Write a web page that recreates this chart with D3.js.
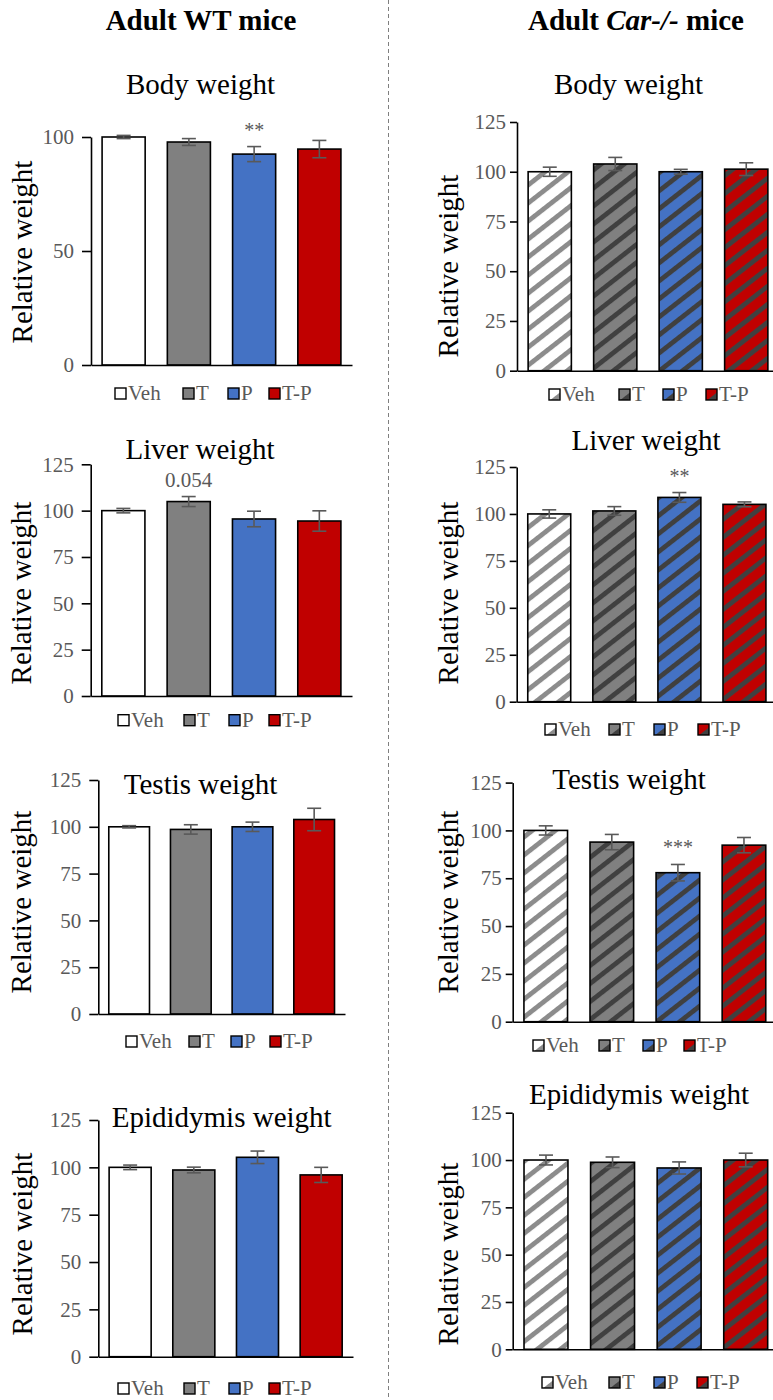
<!DOCTYPE html>
<html>
<head>
<meta charset="utf-8">
<script src="https://cdn.jsdelivr.net/npm/d3@7"></script>
<style>
  body { margin: 0; background: #fff; }
  text { font-family: "Liberation Serif", "Times New Roman", serif; }
</style>
</head>
<body>
<svg id="fig" width="773" height="1400"></svg>
<script>
var groups = ["Veh", "T", "P", "T-P"];

// adult WT mice (relative weight, % of vehicle)
var wtBody = [100, 97.8, 92.5, 94.7];
var wtBodyErr = [0.7, 1.5, 3.3, 3.8];
var wtLiver = [100, 104.9, 95.5, 94.4];
var wtLiverErr = [1.2, 2.7, 4.2, 5.5];
var wtTestis = [100, 98.6, 100, 103.9];
var wtTestisErr = [0.6, 2.5, 2.5, 6.0];
var wtEpid = [100, 98.6, 105.3, 96.0];
var wtEpidErr = [1.2, 1.5, 3.3, 4.0];

// adult Car-/- mice
var carBody = [100, 103.9, 100, 101.3];
var carBodyErr = [2.3, 3.3, 1.2, 3.2];
var carLiver = [100, 101.6, 108.8, 105.1];
var carLiverErr = [2.2, 2.3, 2.6, 1.3];
var carTestis = [100, 93.9, 77.9, 92.3];
var carTestisErr = [2.4, 4.0, 4.3, 4.0];
var carEpid = [100, 98.8, 95.8, 100];
var carEpidErr = [2.6, 2.8, 3.2, 3.6];

// marks above the bars
var wtBodySig = ["", "", "**", ""];
var wtLiverSig = ["", "0.054", "", ""];
var carLiverSig = ["", "", "**", ""];
var carTestisSig = ["", "", "***", ""];
var noSig = ["", "", "", ""];

// y tick labels
var bodyTicks = [0, 50, 100];
var ticks125 = [0, 25, 50, 75, 100, 125];

// colours
var fills = ["#ffffff", "#808080", "#4472c4", "#c00000"];
var stripes = ["#8c8c8c", "#404040", "#404040", "#404040"];
var grey = "#595959";
var serif = "'Liberation Serif', 'Times New Roman', serif";

var svg = d3.select("#fig");
var defs = svg.append("defs");

// diagonal hatching for the Car-/- bars
groups.forEach(function(gname, i) {
  var pat = defs.append("pattern")
    .attr("id", "hatch" + i)
    .attr("patternUnits", "userSpaceOnUse")
    .attr("width", 20).attr("height", 14.2)
    .attr("patternTransform", "rotate(-38)");
  pat.append("rect").attr("width", 20).attr("height", 14.2).attr("fill", fills[i]);
  pat.append("rect").attr("width", 20).attr("height", 4.8).attr("fill", stripes[i]);
});

// column headers
svg.append("text")
  .attr("x", 201).attr("y", 30)
  .attr("text-anchor", "middle")
  .style("font-family", serif)
  .style("font-size", "29px").style("font-weight", "bold")
  .text("Adult WT mice");

var head2 = svg.append("text")
  .attr("x", 636).attr("y", 30)
  .attr("text-anchor", "middle")
  .style("font-family", serif)
  .style("font-size", "29px").style("font-weight", "bold");
head2.append("tspan").text("Adult ");
head2.append("tspan").style("font-style", "italic").text("Car-/-");
head2.append("tspan").text(" mice");

// dashed divider
svg.append("line")
  .attr("x1", 388.5).attr("x2", 388.5)
  .attr("y1", 0).attr("y2", 1400)
  .attr("stroke", "#7f7f7f")
  .attr("stroke-width", 1)
  .attr("stroke-dasharray", "4,3");

var panels = [
  {values: wtBody, errs: wtBodyErr, sig: wtBodySig, ticks: bodyTicks, max: 100, hatch: false,
   x0: 91, x1: 352, y0: 365, yTop: 137, tickSize: 9, pad: 8,
   title: "Body weight", tx: 200.5, ty: 94.3, lx: 31.5, ly: 252, legY: 400, legX: [115, 183, 228, 269]},
  {values: carBody, errs: carBodyErr, sig: noSig, ticks: ticks125, max: 125, hatch: true,
   x0: 517, x1: 779, y0: 370.7, yTop: 122, tickSize: 7, pad: 4,
   title: "Body weight", tx: 628.5, ty: 94.3, lx: 458, ly: 266, legY: 401, legX: [549, 619, 663, 706]},
  {values: wtLiver, errs: wtLiverErr, sig: wtLiverSig, ticks: ticks125, max: 125, hatch: false,
   x0: 90.7, x1: 352, y0: 696, yTop: 464.3, tickSize: 9, pad: 8,
   title: "Liver weight", tx: 200, ty: 459.3, lx: 31, ly: 593, legY: 726.7, legX: [118, 184, 229, 269]},
  {values: carLiver, errs: carLiverErr, sig: carLiverSig, ticks: ticks125, max: 125, hatch: true,
   x0: 516.7, x1: 777, y0: 701.7, yTop: 467, tickSize: 7, pad: 4,
   title: "Liver weight", tx: 646, ty: 450, lx: 458, ly: 593, legY: 736, legX: [545, 609, 654, 698]},
  {values: wtTestis, errs: wtTestisErr, sig: noSig, ticks: ticks125, max: 125, hatch: false,
   x0: 98.3, x1: 345, y0: 1014, yTop: 780, tickSize: 9, pad: 8,
   title: "Testis weight", tx: 200.5, ty: 794.3, lx: 31, ly: 902, legY: 1048, legX: [126, 189, 231, 270]},
  {values: carTestis, errs: carTestisErr, sig: carTestisSig, ticks: ticks125, max: 125, hatch: true,
   x0: 512.7, x1: 777, y0: 1021.7, yTop: 782.6, tickSize: 7, pad: 4,
   title: "Testis weight", tx: 629, ty: 789.3, lx: 458, ly: 902, legY: 1052, legX: [533, 599, 643, 684]},
  {values: wtEpid, errs: wtEpidErr, sig: noSig, ticks: ticks125, max: 125, hatch: false,
   x0: 98.3, x1: 353, y0: 1356.7, yTop: 1120, tickSize: 9, pad: 8,
   title: "Epididymis weight", tx: 221.7, ty: 1126.7, lx: 32, ly: 1244, legY: 1395, legX: [118, 184, 229, 269]},
  {values: carEpid, errs: carEpidErr, sig: noSig, ticks: ticks125, max: 125, hatch: true,
   x0: 512.7, x1: 779, y0: 1349.3, yTop: 1112.7, tickSize: 7, pad: 4,
   title: "Epididymis weight", tx: 639, ty: 1104.3, lx: 458, ly: 1254, legY: 1389, legX: [542, 609, 654, 697]}
];

function fillFor(p, i) {
  return p.hatch ? "url(#hatch" + i + ")" : fills[i];
}

function drawPanel(p) {
  var g = svg.append("g").style("font-family", serif);
  var data = groups.map(function(name, i) {
    return {name: name, i: i, v: p.values[i], e: p.errs[i], s: p.sig[i]};
  });

  var x = d3.scaleBand()
    .domain(groups)
    .range([p.x0, p.x1])
    .paddingInner(0.34)
    .paddingOuter(0.17);
  var y = d3.scaleLinear()
    .domain([0, p.max])
    .range([p.y0, p.yTop]);

  // bars
  g.selectAll(".bar")
    .data(data)
    .enter()
    .append("rect")
      .attr("x", function(d) { return x(d.name); })
      .attr("y", function(d) { return y(d.v); })
      .attr("width", x.bandwidth())
      .attr("height", function(d) { return y(0) - y(d.v); })
      .attr("fill", function(d) { return fillFor(p, d.i); })
      .attr("stroke", "#000")
      .attr("stroke-width", 1.6);

  // error bars
  var eb = g.selectAll(".err")
    .data(data)
    .enter()
    .append("g")
      .attr("transform", function(d) { return "translate(" + (x(d.name) + x.bandwidth() / 2) + ",0)"; })
      .attr("stroke", grey)
      .attr("stroke-width", 1.6);
  eb.append("line")
    .attr("y1", function(d) { return y(d.v - d.e); })
    .attr("y2", function(d) { return y(d.v + d.e); });
  eb.append("line")
    .attr("x1", -7).attr("x2", 7)
    .attr("y1", function(d) { return y(d.v + d.e); })
    .attr("y2", function(d) { return y(d.v + d.e); });
  eb.append("line")
    .attr("x1", -7).attr("x2", 7)
    .attr("y1", function(d) { return y(d.v - d.e); })
    .attr("y2", function(d) { return y(d.v - d.e); });

  // significance marks
  g.selectAll(".sig")
    .data(data.filter(function(d) { return d.s !== ""; }))
    .enter()
    .append("text")
      .attr("x", function(d) { return x(d.name) + x.bandwidth() / 2; })
      .attr("y", function(d) { return y(d.v + d.e) - 10; })
      .attr("text-anchor", "middle")
      .attr("fill", grey)
      .style("font-size", function(d) { return d.s.charAt(0) === "*" ? "20px" : "21px"; })
      .text(function(d) { return d.s; });

  // axes
  var yAxis = g.append("g")
    .attr("transform", "translate(" + p.x0 + ",0)")
    .call(d3.axisLeft(y).tickValues(p.ticks).tickSize(p.tickSize).tickSizeOuter(0).tickPadding(p.pad));
  var xAxis = g.append("g")
    .attr("transform", "translate(0," + p.y0 + ")")
    .call(d3.axisBottom(x).tickValues([]).tickSizeOuter(0));
  [yAxis, xAxis].forEach(function(a) {
    a.attr("font-family", null).attr("font-size", null);
    a.select(".domain").attr("stroke", "#000").attr("stroke-width", 1.6);
    a.selectAll(".tick line").attr("stroke", "#000").attr("stroke-width", 1.6);
    a.selectAll(".tick text")
      .attr("fill", grey)
      .style("font-size", "21px")
      .style("font-family", serif);
  });

  // title and axis label
  g.append("text")
    .attr("x", p.tx).attr("y", p.ty)
    .attr("text-anchor", "middle")
    .style("font-size", "29px")
    .text(p.title);
  g.append("text")
    .attr("transform", "translate(" + p.lx + "," + p.ly + ") rotate(-90)")
    .attr("text-anchor", "middle")
    .style("font-size", "29px")
    .text("Relative weight");

  // legend
  var leg = g.selectAll(".leg")
    .data(data)
    .enter()
    .append("g")
      .attr("transform", function(d) { return "translate(" + p.legX[d.i] + "," + p.legY + ")"; });
  leg.append("rect")
    .attr("x", 0).attr("y", -12)
    .attr("width", 11).attr("height", 11)
    .attr("fill", function(d) { return fillFor(p, d.i); })
    .attr("stroke", "#000")
    .attr("stroke-width", 1.4);
  leg.append("text")
    .attr("x", 13).attr("y", 0)
    .attr("fill", grey)
    .style("font-size", "21px")
    .text(function(d) { return d.name; });
}

panels.forEach(drawPanel);
</script>
</body>
</html>
